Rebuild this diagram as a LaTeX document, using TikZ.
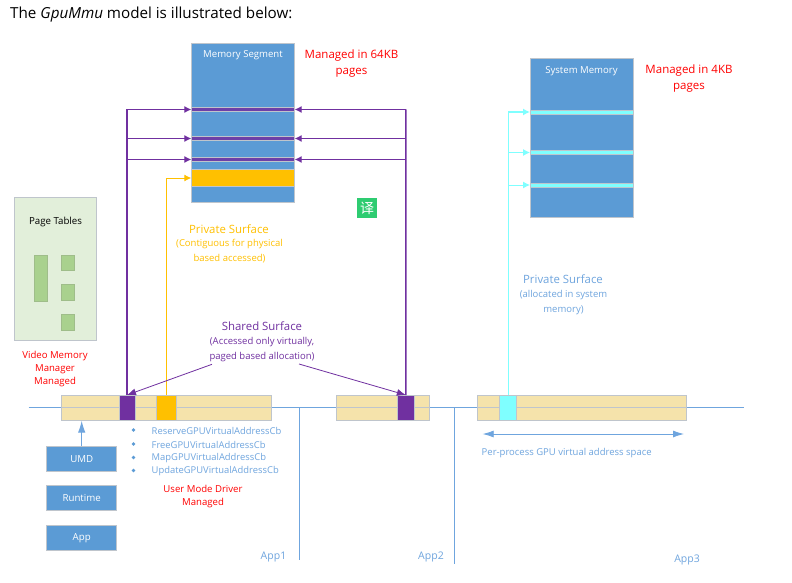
\documentclass[tikz,border=0pt]{standalone}
\usepackage{fontspec}
\setmainfont{Open Sans}
\newfontfamily\cjkf{Noto Sans CJK SC}
\usetikzlibrary{arrows.meta}
\definecolor{mblue}{HTML}{5B9BD5}
\definecolor{lblue}{HTML}{6FA5DE}
\definecolor{mpurple}{HTML}{7030A0}
\definecolor{mgold}{HTML}{FFC000}
\definecolor{mcyan}{HTML}{7FFFFF}
\definecolor{mtan}{HTML}{F5E3AB}
\definecolor{mgreen}{HTML}{E2EFDA}
\definecolor{dgreen}{HTML}{A9D18E}
\definecolor{mred}{HTML}{FF0000}
\definecolor{edgeg}{HTML}{BFC5CC}
\definecolor{ygreen}{HTML}{2ECC71}
\tikzset{
 x=1pt,y=-1pt,
 box/.style={draw=edgeg,line width=0.8pt,inner sep=0,outer sep=0},
 lbl/.style={font=\fontsize{#1}{#1}\selectfont,inner sep=0,align=center},
 lbl/.default=10,
 parr/.style={draw=mpurple,line width=1pt,-{Latex[length=7pt,width=7pt]}},
 carr/.style={draw=mcyan,line width=1pt,-{Latex[length=7pt,width=7pt]}},
 garr/.style={draw=mgold,line width=1pt,-{Latex[length=7pt,width=7pt]}},
 bline/.style={draw=lblue,line width=0.8pt},
 bluebtn/.style={draw=edgeg,line width=0.8pt,fill=mblue,text=white,minimum width=70pt,minimum height=25pt,inner sep=0,outer sep=0,font=\fontsize{9.7}{9.7}\selectfont},
}
\newcommand{\rectnode}[6]{\node[box,fill=#6,minimum width=#3 pt-#1 pt,minimum height=#4 pt-#2 pt,anchor=north west] (#5) at (#1,#2) {};}
\begin{document}
\begin{tikzpicture}
\useasboundingbox (0,0) rectangle (792,583);
\fill[white] (0,0) rectangle (792,583);
% title
\node[anchor=base west,inner sep=0,font=\fontsize{15.2}{15.2}\selectfont] (title) at (10,18.5) {The \textit{GpuMmu} model is illustrated below:};

% base line
\coordinate (bl) at (28.5,407.5);\coordinate (br) at (744,407.5);
\draw[bline] (bl) -- (br);
\coordinate (d1t) at (299.3,407.5);\coordinate (d1b) at (299.3,560);
\coordinate (d2t) at (454.3,407.5);\coordinate (d2b) at (454.3,564);
\draw[bline] (d1t) -- (d1b);
\draw[bline] (d2t) -- (d2b);

% memory segment
\rectnode{191.3}{43.3}{294.7}{202.3}{seg}{mblue}
\rectnode{191.3}{107.5}{294.7}{111.5}{sa}{mpurple!85!mblue}
\rectnode{191.3}{136.5}{294.7}{140.5}{sb}{mpurple!85!mblue}
\rectnode{191.3}{157.5}{294.7}{161.5}{sc}{mpurple!85!mblue}
\rectnode{191.3}{169.3}{294.7}{186.7}{sg}{mgold}
\node[lbl=9.6,text=white] (segt) at (243,54.8) {Memory Segment};
\node[lbl=11.5,text=mred,font=\fontsize{11.5}{16}\selectfont] (m64) at (351.5,63.5) {Managed in 64KB\\pages};

% system memory
\rectnode{530}{58.3}{633.3}{217.3}{sys}{mblue}
\tikzset{box/.append style={line width=0.5pt}}
\rectnode{530}{110}{633.3}{114}{ca}{mcyan}
\rectnode{530}{150.5}{633.3}{154.5}{cb}{mcyan}
\rectnode{530}{183}{633.3}{187}{cc}{mcyan}
\tikzset{box/.append style={line width=0.8pt}}
\node[lbl=9.6,text=white] (syst) at (581.5,70.8) {System Memory};
\node[lbl=11.5,text=mred,font=\fontsize{11.5}{16}\selectfont] (m4) at (689,78.5) {Managed in 4KB\\pages};

% page tables
\rectnode{14.3}{197}{96.7}{340.3}{pt}{mgreen}
\node[lbl=9.7] (ptt) at (55.5,222) {Page Tables};
\tikzset{box/.append style={draw=dgreen!75!gray}}
\rectnode{34.3}{255}{47.3}{301.7}{p1}{dgreen}
\rectnode{61.7}{255}{74.7}{270.7}{p2}{dgreen}
\rectnode{61.7}{284.3}{74.7}{300.7}{p3}{dgreen}
\rectnode{61.7}{314.3}{74.7}{330}{p4}{dgreen}
\tikzset{box/.append style={draw=edgeg}}
\node[lbl,text=mred,font=\fontsize{9.6}{13}\selectfont] (vmm) at (55,369.5) {Video Memory\\Manager\\Managed};

% address bars
\rectnode{61.7}{395}{271.7}{420.3}{b1}{mtan}
\rectnode{336.3}{395}{429.7}{420.3}{b2}{mtan}
\rectnode{477}{395}{686.7}{420.3}{b3}{mtan}
\draw[edgeg,line width=0.8pt] (b1.west) -- (b1.east) (b2.west) -- (b2.east) (b3.west) -- (b3.east);
\rectnode{119}{395}{135}{420.3}{u1}{mpurple}
\rectnode{156.7}{395}{176}{420.3}{u2}{mgold}
\rectnode{397.7}{395}{414}{420.3}{u3}{mpurple}
\rectnode{499.7}{395}{516.7}{420.3}{u4}{mcyan}

% purple connectors
\coordinate (pl) at (127,109.5);\coordinate (pr) at (405.85,109.5);
\draw[mpurple,line width=1.4pt] (u1.north) -- (pl);
\draw[mpurple,line width=1.4pt] (u3.north) -- (pr);
\draw[parr] (pl) -- (sa.west);
\draw[parr] (pr) -- (sa.east);
\coordinate (plb) at (127,138.5);\coordinate (prb) at (405.85,138.5);
\draw[parr] (plb) -- (sb.west);
\draw[parr] (prb) -- (sb.east);
\coordinate (plc) at (127,159.5);\coordinate (prc) at (405.85,159.5);
\draw[parr] (plc) -- (sc.west);
\draw[parr] (prc) -- (sc.east);
% gold
\draw[garr] (u2.north) |- (sg.west);
% cyan
\coordinate (cl) at (508.2,112);
\draw[carr,line width=1.3pt] (u4.north) -- (cl) -- (ca.west);
\coordinate (clb) at (508.2,152.5);\coordinate (clc) at (508.2,185);
\draw[carr] (clb) -- (cb.west);
\draw[carr] (clc) -- (cc.west);

% labels
\node[lbl=11.4,text=mgold] (ps1) at (229,229.5) {Private Surface};
\node[lbl=9.5,text=mgold,font=\fontsize{9.5}{15}\selectfont] (ps2) at (229.5,251.5) {(Contiguous for physical\\based accessed)};
\node[lbl=11.4,text=mpurple] (ss1) at (262,326.5) {Shared Surface};
\node[lbl=9.5,text=mpurple,font=\fontsize{9.5}{15}\selectfont] (ss2) at (262,349.7) {(Accessed only virtually,\\paged based allocation)};
\coordinate (sl) at (212,364.3);\coordinate (sr) at (299,364);
\draw[mpurple,line width=0.8pt,-{Latex[length=9pt,width=7pt]}] (sl) -- (u1.north);
\draw[mpurple,line width=0.8pt,-{Latex[length=9pt,width=7pt]}] (sr) -- (u3.north);
\node[lbl=11.4,text=lblue] (ps3) at (563,279.5) {Private Surface};
\node[lbl=9.5,text=lblue,font=\fontsize{9.5}{15}\selectfont] (ps4) at (563.5,303) {(allocated in system\\memory)};

% translate badge
\node[fill=ygreen,text=white,minimum size=20pt,inner sep=0,outer sep=0,font=\cjkf\fontsize{14}{14}\selectfont] (yi) at (367,208) {译};

% buttons
\node[bluebtn] (umd) at (81.7,458.7) {UMD};
\node[bluebtn] (run) at (81.7,497.8) {\raisebox{-0.6pt}{Runtime}};
\node[bluebtn] (app) at (81.7,538.2) {\raisebox{-0.6pt}{App}};
\draw[draw=lblue,line width=1pt,-{Latex[length=12pt,width=7.5pt]}] (umd.north) -- (81.7,420.7);

% API list
\foreach \y/\t in {430/Reserve,444/Free,457.5/Map,470.5/Update}{
  \fill[mblue] (133.5,\y) circle (1.9);
  \node[lbl=9.4,text=lblue,anchor=west] at (151.5,\y+0.5) {\t GPUVirtualAddressCb};
}
\node[lbl,text=mred,font=\fontsize{9.6}{13}\selectfont] (umm) at (203,497) {User Mode Driver\\Managed};

% per-process arrow
\coordinate (al) at (482.7,434);\coordinate (ar) at (684,434);
\draw[lblue,line width=0.8pt,{Latex[length=11pt,width=7pt]}-{Latex[length=11pt,width=7pt]}] (al) -- (ar);
\node[lbl=9.5,text=lblue,anchor=west] (pp) at (481.5,452.8) {Per-process GPU virtual address space};

% apps
\node[lbl=10.5,text=lblue] (a1) at (273.5,557) {App1};
\node[lbl=10.5,text=lblue] (a2) at (431,557) {App2};
\node[lbl=10.5,text=lblue] (a3) at (687,560) {App3};
\end{tikzpicture}
\end{document}
